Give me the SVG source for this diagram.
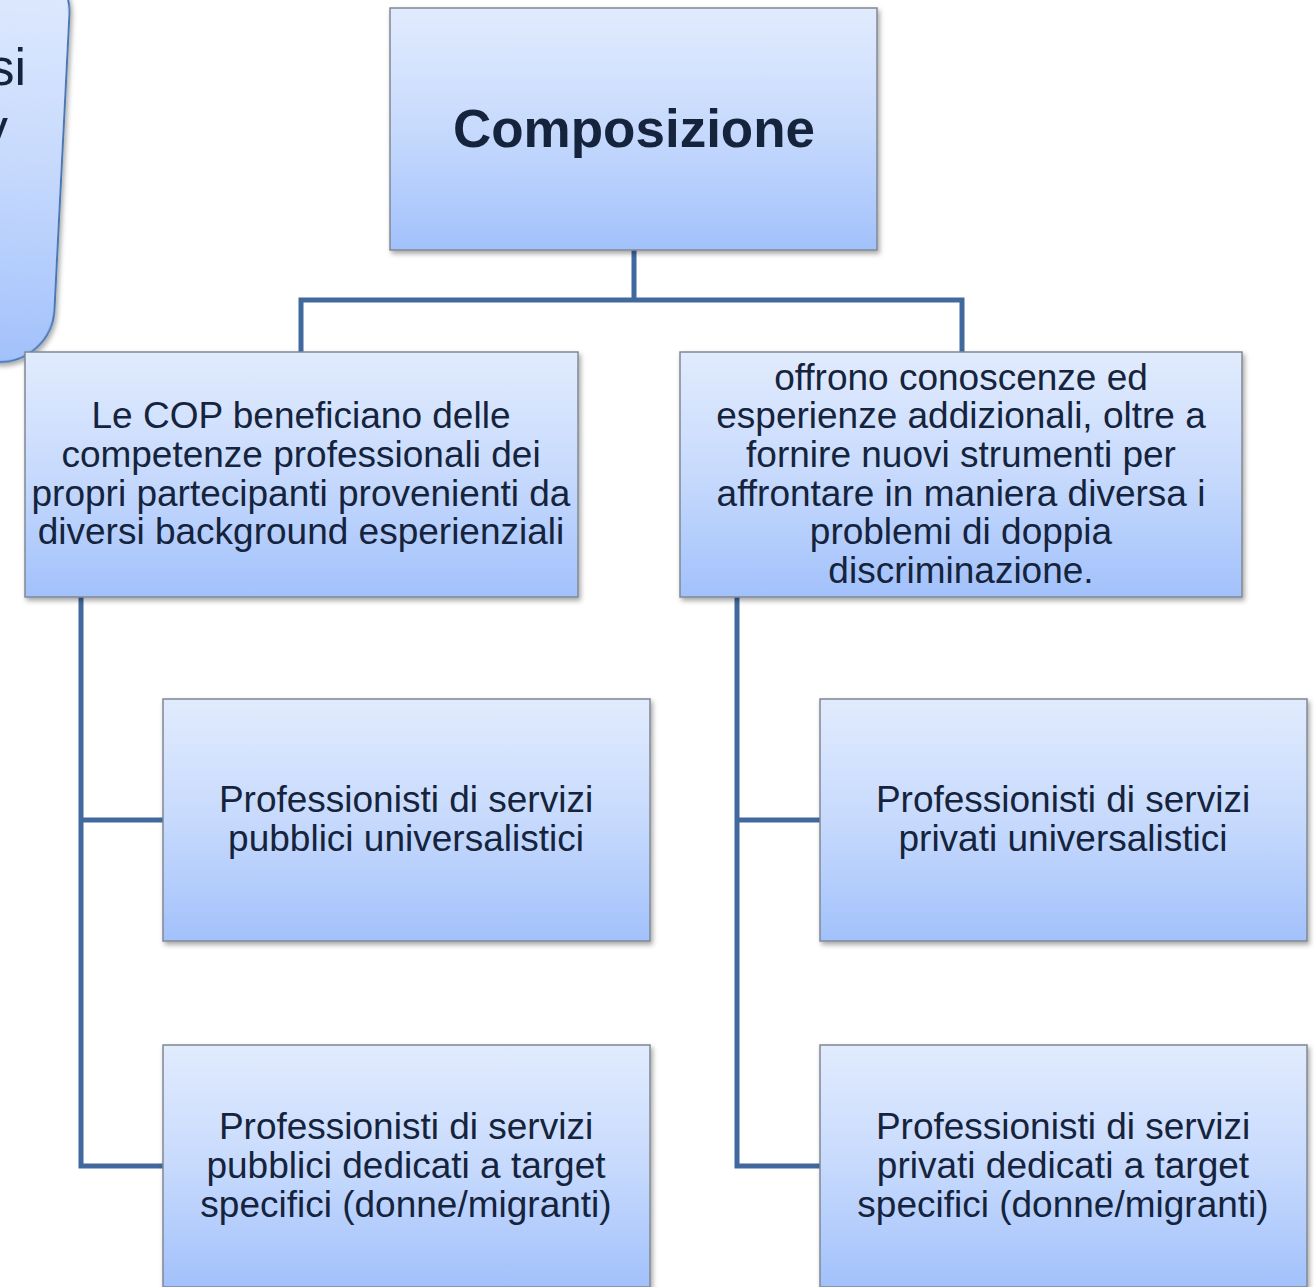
<svg xmlns="http://www.w3.org/2000/svg" width="1316" height="1287" viewBox="0 0 1316 1287">
<defs>
<linearGradient id="g" x1="0" y1="0" x2="0" y2="1">
<stop offset="0" stop-color="#e1ebfd"/>
<stop offset="0.5" stop-color="#c7dafd"/>
<stop offset="1" stop-color="#a2c1fb"/>
</linearGradient>
<filter id="sh" x="-5%" y="-5%" width="115%" height="115%">
<feDropShadow dx="2" dy="3" stdDeviation="2.5" flood-color="#000" flood-opacity="0.35"/>
</filter>
<style>
.box{fill:url(#g);stroke:#808894;stroke-width:1.5;filter:url(#sh)}
.t{font-family:"Liberation Sans",Arial,sans-serif;font-size:37px;fill:#15243c;text-anchor:middle}
.big{font-size:53px;font-weight:bold}
.c{fill:none;stroke:#41699d;stroke-width:5;stroke-linejoin:miter}
</style>
</defs>
<rect width="1316" height="1287" fill="#fff"/>
<g id="callout">
<rect x="-400" y="-40" width="461" height="405" rx="55" ry="55" fill="url(#g)" stroke="#4a78b4" stroke-width="2" filter="url(#sh)" transform="rotate(2.9 61 180)"/>
<text class="t" style="font-size:52px;text-anchor:end" x="26" y="85">si</text>
<text class="t" style="font-size:52px;text-anchor:end" x="8" y="145">v</text>
</g>
<g id="connectors">
<path class="c" d="M634 250V300M301 352V300H962V352"/>
<path class="c" d="M81 597V1166H163M81 820H163"/>
<path class="c" d="M737 597V1166H820M737 820H820"/>
</g>
<g id="n-composizione">
<rect class="box" x="390" y="8" width="487" height="242"/>
<text class="t big" x="634" y="147">Composizione</text>
</g>
<g id="n-cop">
<rect class="box" x="25" y="352" width="553" height="245"/>
<text class="t" x="301"><tspan x="301" y="428">Le COP beneficiano delle</tspan><tspan x="301" y="467">competenze professionali dei</tspan><tspan x="301" y="506">propri partecipanti provenienti da</tspan><tspan x="301" y="544">diversi background esperienziali</tspan></text>
</g>
<g id="n-offrono">
<rect class="box" x="680" y="352" width="562" height="245"/>
<text class="t" x="961"><tspan x="961" y="390">offrono conoscenze ed</tspan><tspan x="961" y="428">esperienze addizionali, oltre a</tspan><tspan x="961" y="467">fornire nuovi strumenti per</tspan><tspan x="961" y="506">affrontare in maniera diversa i</tspan><tspan x="961" y="544">problemi di doppia</tspan><tspan x="961" y="583">discriminazione.</tspan></text>
</g>
<g id="n-pub-univ">
<rect class="box" x="163" y="699" width="487" height="242"/>
<text class="t" x="406"><tspan x="406" y="812">Professionisti di servizi</tspan><tspan x="406" y="851">pubblici universalistici</tspan></text>
</g>
<g id="n-pub-target">
<rect class="box" x="163" y="1045" width="487" height="242"/>
<text class="t" x="406"><tspan x="406" y="1139">Professionisti di servizi</tspan><tspan x="406" y="1178">pubblici dedicati a target</tspan><tspan x="406" y="1217">specifici (donne/migranti)</tspan></text>
</g>
<g id="n-priv-univ">
<rect class="box" x="820" y="699" width="487" height="242"/>
<text class="t" x="1063"><tspan x="1063" y="812">Professionisti di servizi</tspan><tspan x="1063" y="851">privati universalistici</tspan></text>
</g>
<g id="n-priv-target">
<rect class="box" x="820" y="1045" width="487" height="242"/>
<text class="t" x="1063"><tspan x="1063" y="1139">Professionisti di servizi</tspan><tspan x="1063" y="1178">privati dedicati a target</tspan><tspan x="1063" y="1217">specifici (donne/migranti)</tspan></text>
</g>
</svg>
